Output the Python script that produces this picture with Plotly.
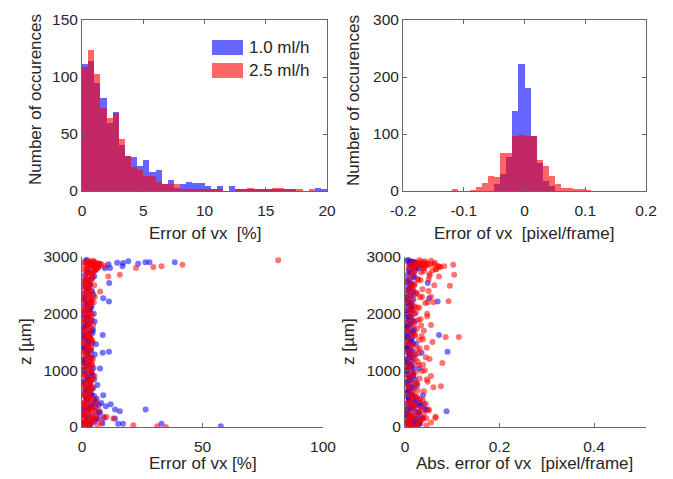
import plotly.graph_objects as go

# ---- top left: histogram of relative error (bins of 0.5 %)
pct_bin_left = [i * 0.5 for i in range(40)]
pct_counts_1 = [111, 114, 95, 82, 60, 69, 40, 31, 30, 22,
                27, 17, 18, 6, 10, 3, 6, 8, 7, 7,
                4, 2, 4, 0, 4, 1, 2, 2, 2, 2,
                1, 1, 2, 2, 2, 0, 0, 0, 3, 1]
pct_counts_25 = [109, 124, 103, 73, 64, 68, 46, 31, 21, 18,
                 13, 13, 8, 6, 6, 6, 2, 2, 1, 2,
                 2, 2, 1, 0, 0, 1, 1, 3, 2, 1,
                 2, 3, 3, 1, 1, 1, 0, 1, 0, 0]

# ---- top right: histogram of absolute error (bins of 0.01 pixel/frame)
px_bin_left = [round(-0.12 + i * 0.01, 2) for i in range(23)]
px_counts_1 = [0, 0, 0, 0, 0, 0, 0, 13, 30, 60,
               140, 222, 181, 97, 50, 17, 8, 0, 0, 0,
               0, 0, 0]
px_counts_25 = [2, 0, 0, 1, 7, 14, 27, 24, 66, 67,
                97, 98, 97, 96, 55, 43, 27, 12, 6, 5,
                2, 2, 1]

# ---- bottom: scatter of error vs height z
z_1 = [20, 45, 70, 95, 120, 150, 175, 200, 230, 260,
       290, 320, 350, 380, 410, 440, 470, 500, 530, 560,
       600, 640, 680, 720, 760, 800, 840, 880, 920, 960,
       1000, 1040, 1080, 1120, 1160, 1200, 1240, 1280, 1320, 1360,
       1400, 1440, 1480, 1520, 1560, 1600, 1640, 1680, 1720, 1760,
       1800, 1840, 1880, 1920, 1960, 2000, 2040, 2080, 2120, 2160,
       2200, 2240, 2280, 2320, 2360, 2400, 2440, 2480, 2520, 2560,
       2600, 2640, 2680, 2720, 2760, 2790, 2820, 2850, 2880, 2910,
       10, 60, 110, 160, 210, 270, 330, 390, 450, 520,
       580, 660, 740, 820, 900, 980, 1060, 1140, 1220, 1300,
       1380, 1460, 1540, 1620, 1700, 1780, 1860, 1940, 2020, 2100,
       2180, 2260, 2340, 2420, 2500, 2580, 2660, 2740, 2800, 2870,
       2906, 2906, 2906, 2924, 2894, 2835, 2806, 2540, 2274, 2215,
       1624, 1329, 1311, 1034, 561, 402, 366, 307, 278, 307,
       59, 59, 12, 148, 59, 2900, 2930, 2880, 2950, 2860,
       35, 85, 135, 190, 245, 305, 365, 425, 485, 545,
       620, 700, 780, 860, 940, 1020, 1100, 1180, 1260, 1340,
       1420, 1500, 1580, 1660, 1740, 1820, 1900, 1980, 2060, 2140]
err_pct_1 = [1.2, 3.5, 0.8, 5.2, 2.1, 6.8, 1.5, 4.3, 0.6, 7.5,
             2.8, 1.1, 5.6, 3.2, 0.9, 4.7, 2.3, 6.1, 1.4, 3.8,
             0.7, 2.5, 4.4, 1.8, 3.1, 0.5, 5.0, 2.2, 1.3, 3.6,
             0.9, 4.8, 2.0, 1.2, 3.3, 0.6, 2.7, 5.3, 1.6, 3.0,
             0.8, 2.4, 4.1, 1.1, 3.5, 0.5, 2.9, 1.7, 4.6, 0.9,
             2.2, 1.3, 3.8, 0.6, 2.6, 4.9, 1.4, 3.2, 0.8, 2.0,
             1.5, 3.9, 0.7, 2.8, 1.1, 4.2, 2.3, 0.9, 3.4, 1.8,
             2.6, 4.4, 1.2, 3.1, 5.5, 2.0, 6.5, 3.8, 7.2, 4.9,
             2.5, 8.5, 4.0, 9.2, 1.0, 6.0, 3.0, 7.0, 5.5, 2.0,
             3.8, 1.9, 6.4, 2.7, 4.5, 1.0, 3.5, 0.6, 4.1, 2.2,
             1.3, 5.8, 3.0, 0.7, 4.0, 1.6, 5.2, 2.5, 0.5, 3.7,
             2.9, 1.2, 4.7, 2.1, 3.3, 0.8, 5.1, 2.4, 9.5, 11.0,
             38.5, 28.0, 26.3, 19.2, 17.0, 16.8, 11.6, 11.3, 8.8, 11.2,
             8.6, 11.2, 8.6, 7.5, 8.8, 11.9, 9.9, 13.7, 15.7, 26.4,
             17.0, 33.0, 57.6, 13.7, 15.0, 14.6, 1.5, 23.3, 2.0, 4.0,
             3.0, 1.0, 5.8, 2.4, 7.0, 0.8, 4.0, 8.0, 2.0, 5.0,
             1.5, 3.6, 0.6, 2.4, 4.2, 1.2, 3.0, 0.8, 2.2, 3.8,
             0.9, 2.7, 1.6, 4.4, 0.6, 3.1, 1.9, 0.7, 2.9, 4.0]
err_px_1 = [0.008, 0.015, 0.004, 0.022, 0.011, 0.027, 0.006, 0.018, 0.003, 0.030,
            0.012, 0.005, 0.020, 0.014, 0.003, 0.017, 0.009, 0.024, 0.006, 0.015,
            0.004, 0.010, 0.019, 0.007, 0.013, 0.002, 0.021, 0.009, 0.005, 0.016,
            0.003, 0.018, 0.008, 0.005, 0.014, 0.002, 0.011, 0.022, 0.006, 0.012,
            0.003, 0.009, 0.017, 0.004, 0.015, 0.002, 0.012, 0.007, 0.019, 0.004,
            0.009, 0.005, 0.016, 0.002, 0.011, 0.020, 0.006, 0.013, 0.003, 0.008,
            0.006, 0.016, 0.003, 0.012, 0.004, 0.018, 0.010, 0.003, 0.014, 0.007,
            0.010, 0.018, 0.005, 0.013, 0.021, 0.008, 0.025, 0.015, 0.028, 0.019,
            0.010, 0.032, 0.016, 0.035, 0.004, 0.024, 0.012, 0.028, 0.022, 0.008,
            0.015, 0.007, 0.026, 0.011, 0.018, 0.004, 0.014, 0.002, 0.017, 0.009,
            0.005, 0.023, 0.012, 0.003, 0.016, 0.006, 0.021, 0.010, 0.002, 0.015,
            0.012, 0.005, 0.019, 0.008, 0.013, 0.003, 0.020, 0.009, 0.030, 0.034,
            0.020, 0.015, 0.014, 0.012, 0.010, 0.018, 0.022, 0.048, 0.051, 0.069,
            0.072, 0.090, 0.035, 0.030, 0.038, 0.040, 0.033, 0.045, 0.088, 0.042,
            0.030, 0.025, 0.020, 0.038, 0.028, 0.012, 0.004, 0.016, 0.007, 0.011,
            0.012, 0.004, 0.024, 0.010, 0.029, 0.003, 0.016, 0.031, 0.008, 0.020,
            0.006, 0.014, 0.002, 0.010, 0.017, 0.005, 0.012, 0.003, 0.009, 0.015,
            0.004, 0.011, 0.006, 0.018, 0.002, 0.013, 0.008, 0.003, 0.012, 0.016]

z_25 = [15, 40, 65, 90, 115, 140, 165, 190, 215, 240,
        270, 300, 330, 360, 390, 420, 450, 480, 510, 540,
        575, 610, 645, 680, 715, 750, 785, 820, 855, 890,
        930, 970, 1010, 1050, 1090, 1130, 1170, 1210, 1250, 1290,
        1330, 1370, 1410, 1450, 1490, 1530, 1570, 1610, 1650, 1690,
        1730, 1770, 1810, 1850, 1890, 1930, 1970, 2010, 2050, 2090,
        2130, 2170, 2210, 2250, 2290, 2330, 2370, 2410, 2450, 2490,
        2530, 2570, 2610, 2650, 2690, 2730, 2770, 2810, 2850, 2880,
        2850, 2855, 2860, 2845, 2850, 2880, 2885, 2890, 2870, 2840,
        30, 80, 130, 180, 230, 290, 350, 410, 470, 530,
        700, 800, 900, 1000, 1100, 1200, 1300, 1400, 1500, 1600,
        1700, 1800, 1900, 2000, 2100, 2200, 2300, 2400, 2500, 2600,
        2700, 2750, 2780, 2820, 2900, 2920, 2600, 2500, 2300, 2200,
        2941, 2865, 2835, 2823, 2806, 2688, 2658, 2392, 30, 12,
        0, 148, 177, 1588, 2494, 1129, 718, 159, 2218, 1588,
        25, 55, 85, 125, 155, 205, 255, 310, 370, 430,
        490, 560, 630, 700, 770, 840, 910, 990, 1070, 1150,
        1230, 1310, 1390, 1470, 1550, 1630, 1710, 1790, 1870, 1950,
        2030, 2110, 2190, 2270, 2350, 2430, 2510, 2590, 2670, 2750,
        2760, 2790, 2800, 2830, 2860, 2890, 2900, 2910, 2925, 2935]
err_pct_25 = [2.5, 0.8, 4.2, 1.5, 3.3, 0.5, 5.0, 2.0, 1.2, 3.8,
              0.7, 2.8, 4.5, 1.1, 3.0, 0.6, 2.2, 4.0, 1.5, 3.5,
              0.9, 2.4, 3.8, 1.3, 2.9, 0.5, 3.6, 1.8, 4.3, 0.8,
              2.1, 3.4, 0.6, 1.7, 4.1, 2.6, 0.9, 3.2, 1.4, 2.8,
              0.5, 3.7, 1.9, 2.5, 0.8, 4.2, 1.2, 3.0, 2.2, 0.6,
              3.5, 1.5, 2.8, 0.7, 4.0, 2.0, 1.0, 3.3, 2.4, 0.9,
              3.1, 1.8, 0.6, 2.7, 4.4, 1.3, 3.5, 0.8, 2.3, 1.6,
              2.9, 0.7, 3.8, 1.5, 2.4, 4.6, 1.1, 5.8, 3.2, 6.5,
              1.0, 2.2, 3.5, 4.8, 6.0, 7.2, 5.0, 3.8, 8.0, 9.5,
              6.5, 8.0, 4.5, 9.0, 5.8, 7.0, 4.8, 6.2, 5.5, 3.0,
              4.8, 3.5, 5.2, 4.0, 3.0, 4.5, 2.0, 3.8, 4.4, 2.6,
              3.2, 4.6, 2.4, 3.9, 1.8, 4.9, 2.7, 3.6, 5.1, 2.0,
              4.3, 3.0, 5.6, 6.8, 3.5, 2.6, 4.0, 1.5, 5.3, 3.7,
              81.4, 41.7, 33.0, 29.6, 22.4, 15.7, 10.9, 7.5, 21.3, 31.2,
              34.8, 13.0, 10.2, 3.5, 2.8, 4.2, 3.1, 6.0, 3.9, 2.5,
              1.8, 3.0, 0.6, 2.4, 4.0, 1.0, 2.6, 3.9, 1.6, 0.8,
              2.7, 1.2, 3.3, 0.7, 2.0, 3.8, 1.4, 2.9, 0.6, 2.3,
              3.6, 1.1, 2.6, 0.7, 3.2, 1.8, 0.5, 2.9, 1.4, 3.9,
              1.0, 2.5, 3.5, 0.8, 2.1, 3.0, 1.3, 2.7, 4.2, 1.7,
              5.0, 6.0, 3.4, 7.0, 4.5, 2.0, 5.8, 1.2, 3.5, 4.8]
err_px_25 = [0.015, 0.005, 0.030, 0.010, 0.022, 0.004, 0.038, 0.012, 0.008, 0.026,
             0.006, 0.018, 0.033, 0.009, 0.020, 0.004, 0.014, 0.028, 0.011, 0.025,
             0.007, 0.016, 0.027, 0.010, 0.021, 0.004, 0.024, 0.013, 0.031, 0.006,
             0.014, 0.023, 0.005, 0.012, 0.029, 0.018, 0.007, 0.022, 0.010, 0.019,
             0.004, 0.026, 0.013, 0.017, 0.006, 0.030, 0.009, 0.021, 0.015, 0.005,
             0.025, 0.011, 0.019, 0.005, 0.028, 0.014, 0.008, 0.023, 0.017, 0.007,
             0.021, 0.012, 0.004, 0.018, 0.032, 0.009, 0.024, 0.006, 0.016, 0.011,
             0.020, 0.005, 0.027, 0.011, 0.017, 0.034, 0.008, 0.040, 0.022, 0.045,
             0.008, 0.016, 0.025, 0.035, 0.045, 0.055, 0.038, 0.028, 0.062, 0.070,
             0.045, 0.055, 0.032, 0.065, 0.040, 0.050, 0.035, 0.044, 0.038, 0.020,
             0.060, 0.048, 0.055, 0.042, 0.038, 0.052, 0.030, 0.046, 0.058, 0.035,
             0.040, 0.055, 0.033, 0.047, 0.026, 0.060, 0.036, 0.050, 0.062, 0.028,
             0.052, 0.040, 0.065, 0.072, 0.045, 0.035, 0.050, 0.020, 0.055, 0.048,
             0.030, 0.102, 0.083, 0.022, 0.018, 0.104, 0.072, 0.015, 0.010, 0.008,
             0.012, 0.015, 0.020, 0.114, 0.095, 0.079, 0.076, 0.064, 0.092, 0.086,
             0.020, 0.028, 0.006, 0.035, 0.045, 0.012, 0.030, 0.050, 0.018, 0.010,
             0.032, 0.015, 0.040, 0.008, 0.025, 0.046, 0.017, 0.036, 0.007, 0.027,
             0.044, 0.013, 0.031, 0.006, 0.038, 0.021, 0.005, 0.034, 0.016, 0.047,
             0.012, 0.030, 0.043, 0.009, 0.025, 0.037, 0.015, 0.033, 0.052, 0.020,
             0.058, 0.066, 0.040, 0.075, 0.050, 0.024, 0.063, 0.014, 0.042, 0.055]

labels = ["1.0 ml/h", "2.5 ml/h"]
BLUE = "rgb(0,0,255)"
RED = "rgb(255,0,0)"
W, H = 673, 479
OFF = 8  # page body margin
FONT = "Liberation Sans, Arial, sans-serif"
TXT = "#262626"
AX = "#666666"

fig = go.Figure()

# histograms (bars from bin edges + width)
fig.add_trace(go.Bar(x=pct_bin_left, y=pct_counts_1, width=0.5, offset=0,
                     marker=dict(color=BLUE, line_width=0), opacity=0.6,
                     name=labels[0], xaxis="x", yaxis="y"))
fig.add_trace(go.Bar(x=pct_bin_left, y=pct_counts_25, width=0.5, offset=0,
                     marker=dict(color=RED, line_width=0), opacity=0.6,
                     name=labels[1], xaxis="x", yaxis="y"))
fig.add_trace(go.Bar(x=px_bin_left, y=px_counts_1, width=0.01, offset=0,
                     marker=dict(color=BLUE, line_width=0), opacity=0.6,
                     xaxis="x2", yaxis="y2"))
fig.add_trace(go.Bar(x=px_bin_left, y=px_counts_25, width=0.01, offset=0,
                     marker=dict(color=RED, line_width=0), opacity=0.6,
                     xaxis="x2", yaxis="y2"))

# scatters
mk = dict(size=6, line_width=0)
fig.add_trace(go.Scatter(x=err_pct_1, y=z_1, mode="markers",
                         marker=dict(color=BLUE, opacity=0.55, **mk),
                         xaxis="x3", yaxis="y3"))
fig.add_trace(go.Scatter(x=err_pct_25, y=z_25, mode="markers",
                         marker=dict(color=RED, opacity=0.55, **mk),
                         xaxis="x3", yaxis="y3"))
fig.add_trace(go.Scatter(x=err_px_1, y=z_1, mode="markers",
                         marker=dict(color=BLUE, opacity=0.55, **mk),
                         xaxis="x4", yaxis="y4"))
fig.add_trace(go.Scatter(x=err_px_25, y=z_25, mode="markers",
                         marker=dict(color=RED, opacity=0.55, **mk),
                         xaxis="x4", yaxis="y4"))


def px_x(p):
    return (p - OFF) / W


def px_y(p):
    return 1 - (p - OFF) / H


def ax(domain, rng, tickvals, ticktext=None, mirror=True, anchor=None, standoff=0):
    d = dict(domain=domain, range=rng, tickvals=tickvals, ticks="inside",
             ticklen=4, tickcolor=AX, linecolor=AX, linewidth=1,
             showline=True, showgrid=False, zeroline=False, automargin=False,
             mirror="ticks" if mirror else False, ticklabelstandoff=standoff,
             tickfont=dict(size=15.5, color=TXT), anchor=anchor)
    if ticktext is not None:
        d["ticktext"] = ticktext
    return d


fig.update_layout(
    width=W, height=H,
    margin=dict(l=0, r=0, t=0, b=0, pad=0),
    paper_bgcolor="white", plot_bgcolor="white",
    barmode="overlay", bargap=0, showlegend=False,
    font=dict(family=FONT, color=TXT),
    xaxis=ax([px_x(82), px_x(327)], [0, 20], [0, 5, 10, 15, 20], anchor="y", standoff=5),
    yaxis=ax([px_y(191), px_y(20)], [0, 150], [0, 50, 100, 150], anchor="x"),
    xaxis2=ax([px_x(403), px_x(646)], [-0.2, 0.2], [-0.2, -0.1, 0, 0.1, 0.2],
              ["-0.2", "-0.1", "0", "0.1", "0.2"], anchor="y2", standoff=5),
    yaxis2=ax([px_y(191), px_y(20)], [0, 300], [0, 100, 200, 300], anchor="x2"),
    xaxis3=ax([px_x(82), px_x(323)], [0, 100], [0, 50, 100], mirror=False,
              anchor="y3", standoff=5),
    yaxis3=ax([px_y(427), px_y(257)], [0, 3000], [0, 1000, 2000, 3000],
              mirror=False, anchor="x3"),
    xaxis4=ax([px_x(405), px_x(646)], [0, 0.51], [0, 0.2, 0.4],
              ["0", "0.2", "0.4"], mirror=False, anchor="y4", standoff=5),
    yaxis4=ax([px_y(427), px_y(257)], [0, 3000], [0, 1000, 2000, 3000],
              mirror=False, anchor="x4"),
)

nb = "\u00a0"
titles = [
    (205, 233, "Error of vx" + nb * 2 + "[%]", 0),
    (524, 233, "Error of vx" + nb * 2 + "[pixel/frame]", 0),
    (203, 463, "Error of vx [%]", 0),
    (524, 463, "Abs. error of vx" + nb * 2 + "[pixel/frame]", 0),
    (35, 100, "Number of occurences", -90),
    (353, 100, "Number of occurences", -90),
    (25, 342, "z [µm]", -90),
    (348, 342, "z [µm]", -90),
]
for x, y, t, ang in titles:
    fig.add_annotation(x=px_x(x), y=px_y(y), xref="paper", yref="paper",
                       text=t, showarrow=False, textangle=ang,
                       xanchor="center", yanchor="middle",
                       font=dict(size=17, color=TXT, family=FONT))

# legend patches in the top-left panel
leg = [(40, 55, BLUE, labels[0]), (63, 78, RED, labels[1])]
for y0, y1, c, t in leg:
    fig.add_shape(type="rect", xref="paper", yref="paper",
                  x0=px_x(212), x1=px_x(243), y0=px_y(y1), y1=px_y(y0),
                  fillcolor=c, opacity=0.6, line_width=0)
    fig.add_annotation(x=px_x(247), y=px_y((y0 + y1) / 2), xref="paper", yref="paper",
                       text=t, showarrow=False, xanchor="left", yanchor="middle",
                       font=dict(size=17, color=TXT, family=FONT))

fig.write_html("out.html")
